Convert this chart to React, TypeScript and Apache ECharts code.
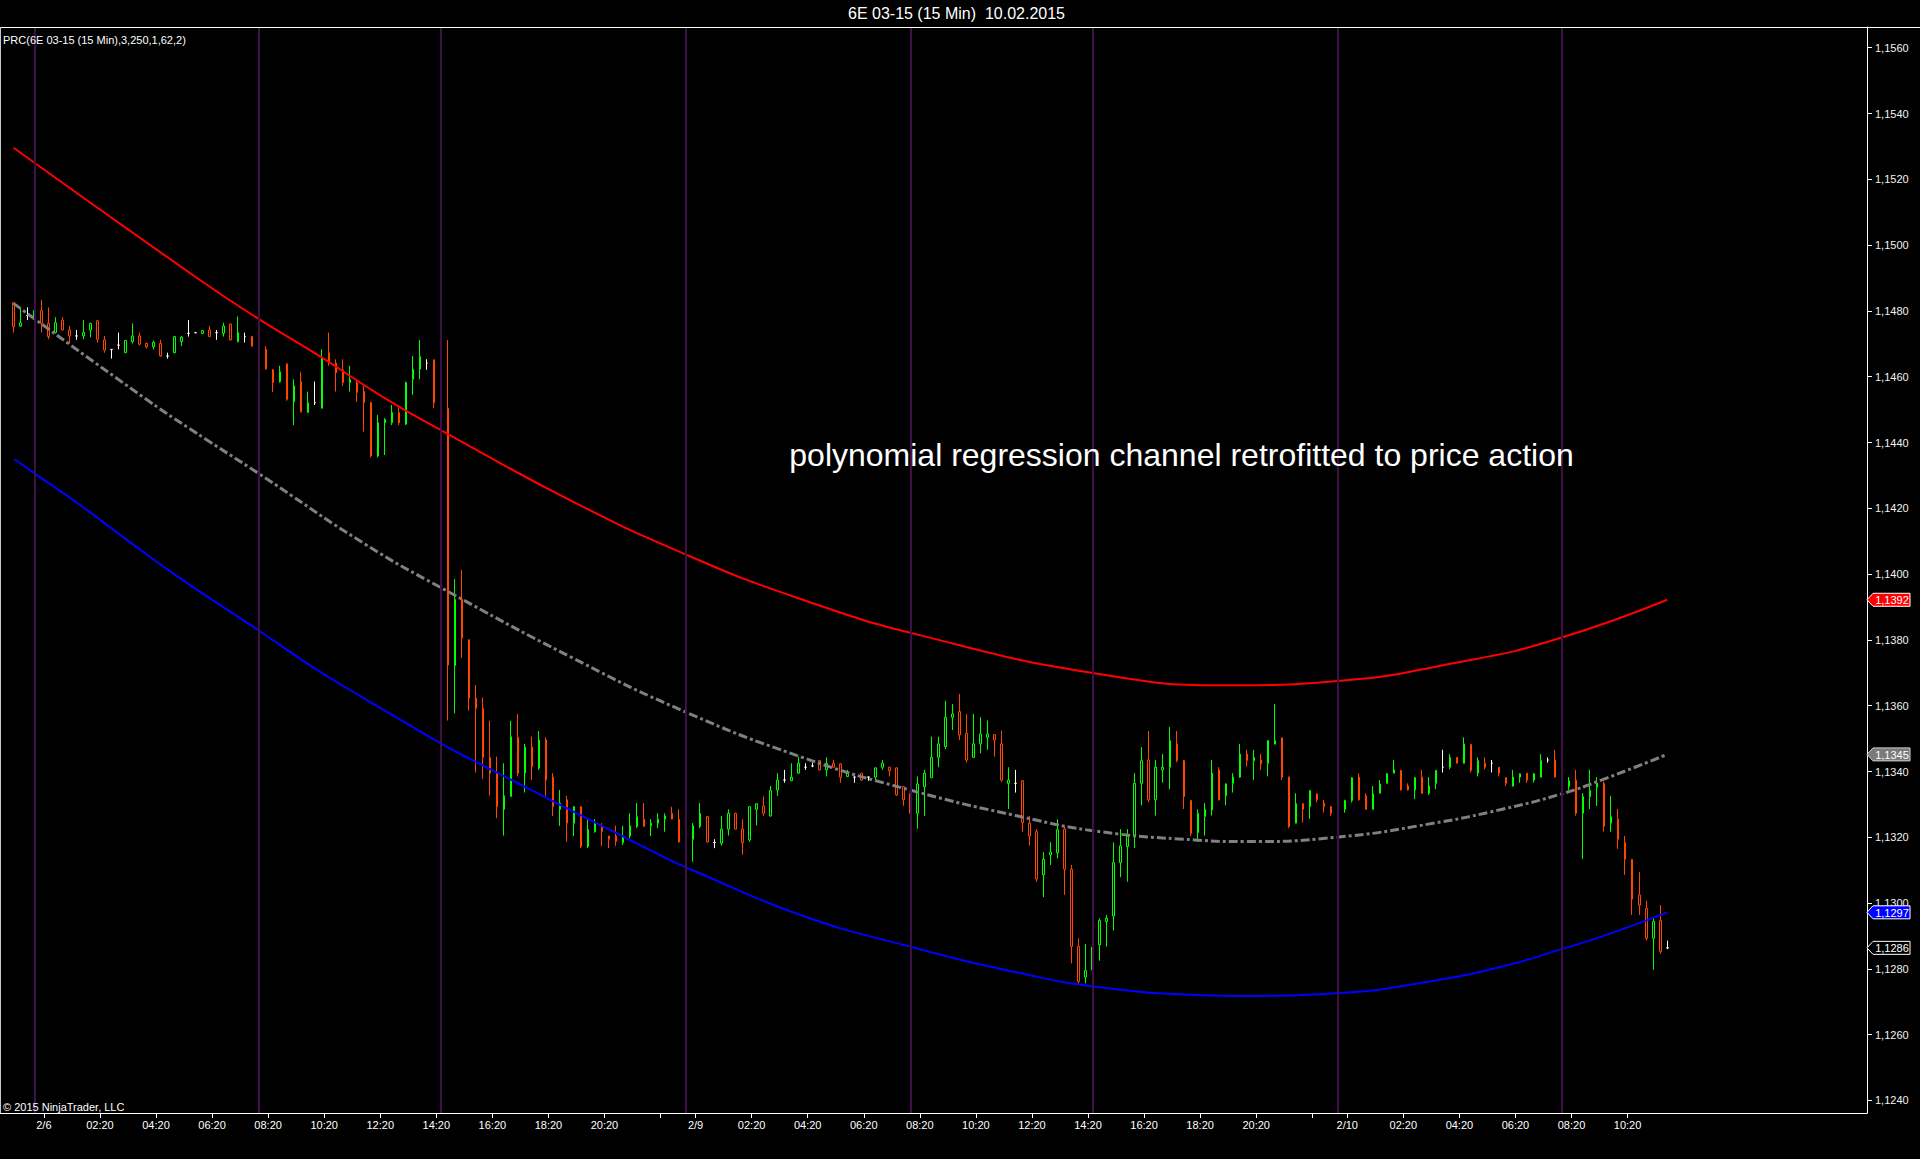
import React, { useEffect, useRef } from 'react';
import * as echarts from 'echarts';

// ---------- session layout (bar times, 15 min bars) ----------
const sessionDays = ['2/5', '2/6', '2/9', '2/10'];
const sessionFirst = ['22:30', '00:00', '00:00', '00:00'];
const sessionLast = ['23:00', '23:00', '23:00', '11:45'];

// ---------- OHLC values ----------
const openP = [
  1.14825, 1.14754, 1.14786, 1.14774, 1.14801, 1.14762, 1.14734, 1.14772, 1.14742, 1.14724,
  1.14724, 1.14742, 1.14770, 1.14712, 1.14683, 1.14696, 1.14673, 1.14707, 1.14724, 1.14701,
  1.14691, 1.14701, 1.14663, 1.14673, 1.14707, 1.14732, 1.14734, 1.14732, 1.14742, 1.14734,
  1.14732, 1.14760, 1.14707, 1.14722, 1.14722, 1.14681, 1.14683, 1.14621, 1.14585, 1.14639,
  1.14524, 1.14585, 1.14491, 1.14521, 1.14504, 1.14673, 1.14641, 1.14621, 1.14582, 1.14582,
  1.14555, 1.14521, 1.14359, 1.14460, 1.14460, 1.14491, 1.14456, 1.14592, 1.14623, 1.14641,
  1.14651, 1.14534, 1.14504, 1.13722, 1.13924, 1.13800, 1.13623, 1.13592, 1.13443, 1.13395,
  1.13285, 1.13324, 1.13504, 1.13395, 1.13474, 1.13410, 1.13496, 1.13383, 1.13285, 1.13314,
  1.13243, 1.13293, 1.13172, 1.13217, 1.13233, 1.13204, 1.13204, 1.13184, 1.13204, 1.13233,
  1.13255, 1.13235, 1.13243, 1.13255, 1.13273, 1.13255, 1.13194, 1.13194, 1.13233, 1.13263,
  1.13184, 1.13182, 1.13225, 1.13273, 1.13225, 1.13192, 1.13285, 1.13295, 1.13265, 1.13344,
  1.13374, 1.13372, 1.13395, 1.13413, 1.13417, 1.13433, 1.13405, 1.13425, 1.13423, 1.13385,
  1.13383, 1.13395, 1.13383, 1.13383, 1.13413, 1.13413, 1.13411, 1.13354, 1.13334, 1.13273,
  1.13354, 1.13381, 1.13443, 1.13476, 1.13565, 1.13582, 1.13516, 1.13443, 1.13484, 1.13504,
  1.13512, 1.13484, 1.13364, 1.13364, 1.13372, 1.13243, 1.13217, 1.13086, 1.13147, 1.13153,
  1.13225, 1.13103, 1.12868, 1.12775, 1.12797, 1.12873, 1.12944, 1.12961, 1.13123, 1.13172,
  1.13204, 1.13364, 1.13435, 1.13314, 1.13405, 1.13413, 1.13484, 1.13433, 1.13312, 1.13214,
  1.13263, 1.13283, 1.13405, 1.13326, 1.13364, 1.13383, 1.13453, 1.13433, 1.13435, 1.13425,
  1.13483, 1.13502, 1.13383, 1.13243, 1.13302, 1.13293, 1.13332, 1.13304, 1.13293, 1.13273,
  1.13285, 1.13312, 1.13383, 1.13326, 1.13285, 1.13334, 1.13364, 1.13395, 1.13403, 1.13356,
  1.13344, 1.13383, 1.13334, 1.13364, 1.13413, 1.13413, 1.13443, 1.13425, 1.13482, 1.13395,
  1.13425, 1.13425, 1.13413, 1.13381, 1.13356, 1.13383, 1.13395, 1.13374, 1.13383, 1.13435,
  1.13435, 1.13383, 1.13354, 1.13374, 1.13273, 1.13324, 1.13352, 1.13364, 1.13243, 1.13255,
  1.13184, 1.13133, 1.13025, 1.12984, 1.12893, 1.12947, 1.12864,
];
const highP = [
  1.14825, 1.14808, 1.14811, 1.14811, 1.14833, 1.14811, 1.14781, 1.14781, 1.14754, 1.14742,
  1.14772, 1.14764, 1.14772, 1.14724, 1.14683, 1.14734, 1.14712, 1.14762, 1.14734, 1.14704,
  1.14710, 1.14712, 1.14673, 1.14724, 1.14724, 1.14772, 1.14736, 1.14742, 1.14754, 1.14742,
  1.14764, 1.14762, 1.14783, 1.14734, 1.14724, 1.14693, 1.14693, 1.14623, 1.14633, 1.14641,
  1.14592, 1.14615, 1.14555, 1.14585, 1.14683, 1.14734, 1.14653, 1.14653, 1.14633, 1.14592,
  1.14572, 1.14524, 1.14484, 1.14474, 1.14514, 1.14514, 1.14585, 1.14663, 1.14712, 1.14653,
  1.14653, 1.14545, 1.14712, 1.13985, 1.14013, 1.13802, 1.13663, 1.13625, 1.13554, 1.13445,
  1.13425, 1.13554, 1.13575, 1.13484, 1.13506, 1.13523, 1.13504, 1.13395, 1.13344, 1.13326,
  1.13295, 1.13295, 1.13255, 1.13255, 1.13243, 1.13204, 1.13235, 1.13235, 1.13273, 1.13304,
  1.13304, 1.13255, 1.13273, 1.13273, 1.13293, 1.13285, 1.13224, 1.13243, 1.13304, 1.13265,
  1.13194, 1.13265, 1.13285, 1.13273, 1.13255, 1.13295, 1.13304, 1.13324, 1.13356, 1.13395,
  1.13405, 1.13425, 1.13445, 1.13425, 1.13427, 1.13435, 1.13443, 1.13435, 1.13425, 1.13405,
  1.13385, 1.13395, 1.13385, 1.13413, 1.13435, 1.13413, 1.13413, 1.13356, 1.13344, 1.13385,
  1.13405, 1.13506, 1.13506, 1.13615, 1.13605, 1.13636, 1.13575, 1.13575, 1.13565, 1.13555,
  1.13514, 1.13524, 1.13413, 1.13405, 1.13374, 1.13265, 1.13225, 1.13155, 1.13185, 1.13255,
  1.13233, 1.13116, 1.12893, 1.12876, 1.12893, 1.12954, 1.12964, 1.13185, 1.13225, 1.13225,
  1.13395, 1.13474, 1.13523, 1.13435, 1.13453, 1.13535, 1.13523, 1.13435, 1.13314, 1.13285,
  1.13304, 1.13435, 1.13413, 1.13364, 1.13395, 1.13484, 1.13466, 1.13466, 1.13453, 1.13494,
  1.13605, 1.13504, 1.13385, 1.13334, 1.13304, 1.13344, 1.13334, 1.13314, 1.13295, 1.13314,
  1.13314, 1.13383, 1.13395, 1.13334, 1.13356, 1.13374, 1.13395, 1.13435, 1.13405, 1.13364,
  1.13383, 1.13405, 1.13383, 1.13405, 1.13466, 1.13453, 1.13443, 1.13504, 1.13484, 1.13443,
  1.13443, 1.13435, 1.13413, 1.13383, 1.13405, 1.13395, 1.13395, 1.13395, 1.13453, 1.13443,
  1.13466, 1.13395, 1.13383, 1.13405, 1.13334, 1.13405, 1.13383, 1.13369, 1.13326, 1.13286,
  1.13204, 1.13134, 1.13094, 1.13007, 1.12954, 1.12994, 1.12886,
];
const lowP = [
  1.14734, 1.14752, 1.14772, 1.14770, 1.14734, 1.14714, 1.14732, 1.14742, 1.14701, 1.14712,
  1.14714, 1.14720, 1.14704, 1.14673, 1.14655, 1.14683, 1.14673, 1.14701, 1.14695, 1.14686,
  1.14683, 1.14661, 1.14655, 1.14671, 1.14693, 1.14722, 1.14732, 1.14730, 1.14722, 1.14712,
  1.14722, 1.14710, 1.14704, 1.14704, 1.14691, 1.14655, 1.14623, 1.14554, 1.14582, 1.14527,
  1.14453, 1.14491, 1.14491, 1.14514, 1.14504, 1.14633, 1.14555, 1.14572, 1.14555, 1.14524,
  1.14433, 1.14355, 1.14355, 1.14362, 1.14453, 1.14453, 1.14453, 1.14545, 1.14592, 1.14621,
  1.14504, 1.14453, 1.13555, 1.13577, 1.13746, 1.13585, 1.13397, 1.13377, 1.13327, 1.13258,
  1.13205, 1.13324, 1.13385, 1.13336, 1.13374, 1.13405, 1.13326, 1.13265, 1.13235, 1.13187,
  1.13204, 1.13167, 1.13167, 1.13214, 1.13174, 1.13167, 1.13174, 1.13177, 1.13197, 1.13228,
  1.13233, 1.13204, 1.13228, 1.13217, 1.13255, 1.13184, 1.13154, 1.13126, 1.13228, 1.13184,
  1.13167, 1.13175, 1.13205, 1.13225, 1.13147, 1.13187, 1.13236, 1.13265, 1.13263, 1.13326,
  1.13366, 1.13371, 1.13393, 1.13405, 1.13413, 1.13403, 1.13385, 1.13413, 1.13366, 1.13383,
  1.13366, 1.13372, 1.13372, 1.13376, 1.13405, 1.13385, 1.13326, 1.13296, 1.13265, 1.13226,
  1.13265, 1.13381, 1.13413, 1.13468, 1.13526, 1.13496, 1.13427, 1.13443, 1.13455, 1.13466,
  1.13445, 1.13369, 1.13286, 1.13336, 1.13217, 1.13175, 1.13065, 1.13018, 1.13116, 1.13136,
  1.13025, 1.12817, 1.12756, 1.12756, 1.12795, 1.12825, 1.12868, 1.12917, 1.13079, 1.13065,
  1.13167, 1.13297, 1.13306, 1.13266, 1.13366, 1.13346, 1.13428, 1.13286, 1.13204, 1.13187,
  1.13205, 1.13266, 1.13312, 1.13297, 1.13336, 1.13381, 1.13415, 1.13374, 1.13405, 1.13385,
  1.13483, 1.13374, 1.13228, 1.13243, 1.13245, 1.13256, 1.13306, 1.13275, 1.13265, 1.13256,
  1.13275, 1.13306, 1.13312, 1.13285, 1.13285, 1.13334, 1.13364, 1.13395, 1.13342, 1.13342,
  1.13316, 1.13332, 1.13329, 1.13346, 1.13397, 1.13407, 1.13425, 1.13425, 1.13397, 1.13385,
  1.13407, 1.13397, 1.13385, 1.13356, 1.13354, 1.13366, 1.13366, 1.13366, 1.13382, 1.13427,
  1.13382, 1.13326, 1.13344, 1.13266, 1.13134, 1.13286, 1.13295, 1.13217, 1.13217, 1.13165,
  1.13086, 1.12964, 1.12964, 1.12886, 1.12797, 1.12846, 1.12860,
];
const closeP = [
  1.14752, 1.14764, 1.14786, 1.14801, 1.14762, 1.14722, 1.14764, 1.14742, 1.14724, 1.14724,
  1.14734, 1.14762, 1.14714, 1.14681, 1.14683, 1.14696, 1.14710, 1.14724, 1.14699, 1.14691,
  1.14704, 1.14663, 1.14663, 1.14722, 1.14720, 1.14732, 1.14734, 1.14740, 1.14722, 1.14734,
  1.14754, 1.14712, 1.14734, 1.14722, 1.14693, 1.14681, 1.14623, 1.14582, 1.14615, 1.14531,
  1.14572, 1.14493, 1.14521, 1.14521, 1.14656, 1.14641, 1.14612, 1.14582, 1.14592, 1.14552,
  1.14521, 1.14359, 1.14460, 1.14470, 1.14491, 1.14460, 1.14582, 1.14623, 1.14661, 1.14641,
  1.14521, 1.14491, 1.13724, 1.13923, 1.13805, 1.13623, 1.13592, 1.13443, 1.13395, 1.13293,
  1.13326, 1.13506, 1.13395, 1.13474, 1.13415, 1.13496, 1.13374, 1.13293, 1.13304, 1.13243,
  1.13293, 1.13172, 1.13224, 1.13241, 1.13217, 1.13194, 1.13187, 1.13204, 1.13235, 1.13263,
  1.13233, 1.13243, 1.13255, 1.13265, 1.13255, 1.13186, 1.13156, 1.13235, 1.13273, 1.13186,
  1.13184, 1.13225, 1.13273, 1.13225, 1.13184, 1.13293, 1.13302, 1.13273, 1.13342, 1.13374,
  1.13374, 1.13383, 1.13425, 1.13413, 1.13417, 1.13405, 1.13425, 1.13413, 1.13383, 1.13395,
  1.13383, 1.13374, 1.13383, 1.13411, 1.13425, 1.13403, 1.13329, 1.13314, 1.13273, 1.13362,
  1.13395, 1.13443, 1.13484, 1.13565, 1.13575, 1.13511, 1.13435, 1.13484, 1.13514, 1.13514,
  1.13496, 1.13374, 1.13374, 1.13364, 1.13245, 1.13204, 1.13073, 1.13133, 1.13155, 1.13223,
  1.13103, 1.12868, 1.12762, 1.12795, 1.12866, 1.12947, 1.12954, 1.13123, 1.13174, 1.13204,
  1.13364, 1.13433, 1.13314, 1.13413, 1.13413, 1.13494, 1.13433, 1.13324, 1.13212, 1.13273,
  1.13285, 1.13395, 1.13314, 1.13362, 1.13383, 1.13453, 1.13433, 1.13443, 1.13423, 1.13494,
  1.13494, 1.13383, 1.13233, 1.13302, 1.13285, 1.13342, 1.13314, 1.13293, 1.13273, 1.13285,
  1.13312, 1.13381, 1.13314, 1.13285, 1.13332, 1.13362, 1.13393, 1.13405, 1.13344, 1.13344,
  1.13381, 1.13334, 1.13356, 1.13403, 1.13413, 1.13443, 1.13425, 1.13484, 1.13403, 1.13433,
  1.13413, 1.13425, 1.13395, 1.13364, 1.13383, 1.13393, 1.13374, 1.13393, 1.13433, 1.13435,
  1.13383, 1.13329, 1.13372, 1.13273, 1.13324, 1.13342, 1.13364, 1.13233, 1.13263, 1.13194,
  1.13133, 1.13012, 1.12994, 1.12893, 1.12944, 1.12853, 1.12864,
];

// ---------- regression channel, read at bar numbers ----------
const upperBars = [1, 27.6, 35.8, 44.8, 54.2, 62.8, 80.4, 96.9, 112.7, 130.6, 156.6, 175, 188.7, 208.7, 221.6, 237];
const upperVals = [1.15296, 1.14894, 1.14778, 1.14661, 1.14532, 1.14428, 1.14225, 1.14060, 1.13929, 1.13813, 1.13694, 1.13662, 1.13673, 1.13738, 1.13805, 1.13922];
const midBars = [1, 20.1, 28.6, 35.9, 51.4, 61.9, 80.9, 96.8, 113.3, 128.9, 145.1, 156.1, 169.6, 176.7, 189.7, 202.9, 213.6, 221.9, 227.6, 237];
const midVals = [1.14823, 1.14529, 1.14408, 1.14307, 1.14088, 1.13960, 1.13744, 1.13582, 1.13445, 1.13344, 1.13261, 1.13217, 1.13192, 1.13187, 1.13200, 1.13240, 1.13286, 1.13332, 1.13374, 1.13452];
const lowerBars = [1.1, 3.95, 10.5, 17.2, 24.8, 35.9, 44.3, 51.4, 61.9, 64.7, 94.2, 97.6, 113.3, 128.9, 145.1, 156.1, 169.6, 176.7, 189.7, 202.9, 213.6, 221.9, 227.6, 237];
const lowerVals = [1.14350, 1.14307, 1.14210, 1.14104, 1.13987, 1.13830, 1.13709, 1.13618, 1.13486, 1.13454, 1.13136, 1.13103, 1.12964, 1.12868, 1.12785, 1.12744, 1.12721, 1.12718, 1.12726, 1.12761, 1.12808, 1.12860, 1.12898, 1.12972];

// ---------- axes ----------
const yTicks = [1.124, 1.126, 1.128, 1.130, 1.132, 1.134, 1.136, 1.138, 1.140, 1.142, 1.144, 1.146, 1.148, 1.150, 1.152, 1.154, 1.156];
const Y_MIN = 1.12362;
const Y_MAX = 1.15663;
const xTickDays = ['2/6', '2/9', '2/10'];
const xTickTimes = ['00:20', '02:20', '04:20', '06:20', '08:20', '10:20', '12:20', '14:20', '16:20', '18:20', '20:20', '22:20'];
const sessionLineTimes = ['00:00', '08:00', '14:30'];
const LEAD_SLOTS = 1;
const TRAIL_SLOTS = 28;

// ---------- texts ----------
const titleText = '6E 03-15 (15 Min)  10.02.2015';
const indicatorText = 'PRC(6E 03-15 (15 Min),3,250,1,62,2)';
const copyrightText = '\u00A9 2015 NinjaTrader, LLC';
const noteText = 'polynomial regression channel retrofitted to price action';

const FONT = '"Liberation Sans", Arial, Helvetica, sans-serif';

const toMin = (s: string) => {
  const [h, m] = s.split(':').map(Number);
  return h * 60 + m;
};
const pad2 = (n: number) => (n < 10 ? '0' : '') + n;

export default function App() {
  const ref = useRef<HTMLDivElement>(null);

  useEffect(() => {
    const el = ref.current;
    if (!el) return;
    const chart = echarts.init(el, null, { renderer: 'svg' });

    // bars
    const bars: { day: string; min: number }[] = [];
    sessionDays.forEach((d, i) => {
      for (let m = toMin(sessionFirst[i]); m <= toMin(sessionLast[i]); m += 15) bars.push({ day: d, min: m });
    });
    const N = LEAD_SLOTS + bars.length + TRAIL_SLOTS;
    const barPos = (day: string, min: number) => {
      const k = bars.findIndex((b) => b.day === day && b.min === min);
      return k < 0 ? null : k + LEAD_SLOTS;
    };
    const categories: string[] = [];
    for (let j = 0; j < N; j++) {
      const b = bars[j - LEAD_SLOTS];
      categories.push(b ? `${b.day} ${pad2(Math.floor(b.min / 60))}:${pad2(b.min % 60)}` : '');
    }
    const candleData: any[] = [];
    for (let j = 0; j < LEAD_SLOTS; j++) candleData.push('-');
    for (let i = 0; i < openP.length; i++) candleData.push([openP[i], closeP[i], lowP[i], highP[i]]);

    // x ticks
    const ticks: { pos: number; label: string }[] = [];
    xTickDays.forEach((d) => {
      xTickTimes.forEach((t) => {
        const p = barPos(d, toMin(t) - 5);
        if (p === null) return;
        ticks.push({ pos: p + 1 / 3, label: t === '00:20' ? d : t });
      });
    });
    ticks.sort((a, b) => a.pos - b.pos);
    const labelMap = new Map<string, string>();
    const labelPositions: number[] = [];
    ticks.forEach((tk, i) => {
      const next = ticks[i + 1];
      if (next && next.pos - tk.pos < 6) return;
      labelPositions.push(tk.pos);
      labelMap.set(tk.pos.toFixed(4), tk.label);
    });
    const tickPositions = ticks.map((t) => t.pos);

    const sessionPositions: number[] = [];
    xTickDays.forEach((d) => {
      sessionLineTimes.forEach((t) => {
        const p = barPos(d, toMin(t));
        if (p !== null) sessionPositions.push(p);
      });
    });

    const toXY = (xs: number[], ys: number[]) => xs.map((x, i) => [x - 1 + LEAD_SLOTS, ys[i]]);

    const option: any = {
      animation: false,
      backgroundColor: '#000000',
      grid: { left: 3, right: 53, top: 27, bottom: 46, containLabel: false, outerBoundsMode: 'none' },
      xAxis: [
        { type: 'category', data: categories, show: false, boundaryGap: true },
        {
          type: 'value',
          min: -0.5,
          max: N - 0.5,
          position: 'bottom',
          axisLine: { show: true, onZero: false, lineStyle: { color: '#ffffff', width: 1 } },
          axisTick: { show: true, inside: false, length: 5, customValues: tickPositions, lineStyle: { color: '#ffffff' } },
          axisLabel: {
            show: true,
            customValues: labelPositions,
            formatter: (v: number) => labelMap.get(v.toFixed(4)) ?? '',
            color: '#ffffff',
            fontSize: 11,
            fontFamily: FONT,
            margin: 6,
          },
          splitLine: { show: false },
        },
      ],
      yAxis: [
        {
          type: 'value',
          position: 'right',
          min: Y_MIN,
          max: Y_MAX,
          axisLine: { show: true, onZero: false, lineStyle: { color: '#ffffff', width: 1 } },
          axisTick: { show: true, inside: false, length: 5, customValues: yTicks, lineStyle: { color: '#ffffff' } },
          axisLabel: {
            customValues: yTicks,
            formatter: (v: number) => v.toFixed(4).replace('.', ','),
            color: '#f2f2f2',
            fontSize: 11,
            fontFamily: FONT,
            margin: 8,
          },
          splitLine: { show: false },
        },
      ],
      series: [
        {
          type: 'line',
          xAxisIndex: 1,
          yAxisIndex: 0,
          data: [],
          silent: true,
          z: 1,
          markLine: {
            silent: true,
            symbol: ['none', 'none'],
            label: { show: false },
            lineStyle: { color: '#3f0f47', width: 2, type: 'solid' },
            data: sessionPositions.map((p) => ({ xAxis: p })),
          },
        },
        {
          type: 'candlestick',
          xAxisIndex: 0,
          yAxisIndex: 0,
          data: candleData,
          barWidth: 2,
          silent: true,
          z: 2,
          itemStyle: {
            color: '#000000',
            color0: '#000000',
            borderColor: '#00ff00',
            borderColor0: '#ff4500',
            borderColorDoji: '#ffffff',
            borderWidth: 1,
          },
        },
        {
          type: 'line',
          xAxisIndex: 1,
          yAxisIndex: 0,
          data: toXY(upperBars, upperVals),
          smooth: true,
          symbol: 'none',
          silent: true,
          z: 3,
          lineStyle: { color: '#ff0000', width: 2 },
        },
        {
          type: 'line',
          xAxisIndex: 1,
          yAxisIndex: 0,
          data: toXY(midBars, midVals),
          smooth: true,
          symbol: 'none',
          silent: true,
          z: 3,
          lineStyle: { color: '#808080', width: 3, type: [9, 3, 3, 3] },
        },
        {
          type: 'line',
          xAxisIndex: 1,
          yAxisIndex: 0,
          data: toXY(lowerBars, lowerVals),
          smooth: true,
          symbol: 'none',
          silent: true,
          z: 3,
          lineStyle: { color: '#0000ff', width: 2 },
        },
      ],
    };
    chart.setOption(option);

    // graphics (frame, texts, price markers on the axis)
    const axisX = chart.convertToPixel({ xAxisIndex: 1 }, N - 0.5) as number;
    const topY = chart.convertToPixel({ yAxisIndex: 0 }, Y_MAX) as number;
    const botY = chart.convertToPixel({ yAxisIndex: 0 }, Y_MIN) as number;

    const markers = [
      { v: upperVals[upperVals.length - 1], fill: '#ff0000', stroke: '#ffffff' },
      { v: midVals[midVals.length - 1], fill: '#7a7a7a', stroke: '#d0d0d0' },
      { v: lowerVals[lowerVals.length - 1], fill: '#0000ff', stroke: '#ffffff' },
      { v: closeP[closeP.length - 1], fill: '#000000', stroke: '#ffffff' },
    ];
    const markerGraphics: any[] = [];
    markers.forEach((m) => {
      const y = chart.convertToPixel({ yAxisIndex: 0 }, m.v) as number;
      markerGraphics.push({
        type: 'polygon',
        z: 100,
        shape: {
          points: [
            [axisX, y],
            [axisX + 6, y - 6.5],
            [axisX + 43, y - 6.5],
            [axisX + 43, y + 6.5],
            [axisX + 6, y + 6.5],
          ],
        },
        style: { fill: m.fill, stroke: m.stroke, lineWidth: 1 },
      });
      markerGraphics.push({
        type: 'text',
        z: 101,
        x: axisX + 25,
        y: y + 0.5,
        style: {
          text: m.v.toFixed(4).replace('.', ','),
          fill: '#ffffff',
          fontSize: 11,
          fontFamily: FONT,
          align: 'center',
          verticalAlign: 'middle',
        },
      });
    });

    chart.setOption({
      graphic: [
        { type: 'line', z: 50, shape: { x1: 0, y1: topY + 0.5, x2: 1920, y2: topY + 0.5 }, style: { stroke: '#ffffff', lineWidth: 1 } },
        { type: 'line', z: 50, shape: { x1: 0.5, y1: topY, x2: 0.5, y2: botY }, style: { stroke: '#c8c8c8', lineWidth: 1 } },
        { type: 'line', z: 50, shape: { x1: 0, y1: botY + 0.5, x2: axisX, y2: botY + 0.5 }, style: { stroke: '#ffffff', lineWidth: 1 } },
        {
          type: 'text',
          z: 50,
          x: 956.5,
          y: 13.5,
          style: { text: titleText, fill: '#ffffff', fontSize: 16, fontFamily: FONT, align: 'center', verticalAlign: 'middle' },
        },
        {
          type: 'text',
          z: 50,
          x: 3,
          y: 39.5,
          style: { text: indicatorText, fill: '#ffffff', fontSize: 11, fontFamily: FONT, align: 'left', verticalAlign: 'middle' },
        },
        {
          type: 'text',
          z: 50,
          x: 3,
          y: 1106.5,
          style: { text: copyrightText, fill: '#ffffff', fontSize: 11, fontFamily: FONT, align: 'left', verticalAlign: 'middle' },
        },
        {
          type: 'text',
          z: 50,
          x: 1181.5,
          y: 454.5,
          style: { text: noteText, fill: '#ffffff', fontSize: 32, fontFamily: FONT, align: 'center', verticalAlign: 'middle' },
        },
        ...markerGraphics,
      ],
    });

    return () => {
      chart.dispose();
    };
  }, []);

  return (
    <div
      ref={ref}
      style={{ position: 'fixed', left: 0, top: 0, width: 1920, height: 1159, background: '#000000' }}
    />
  );
}
